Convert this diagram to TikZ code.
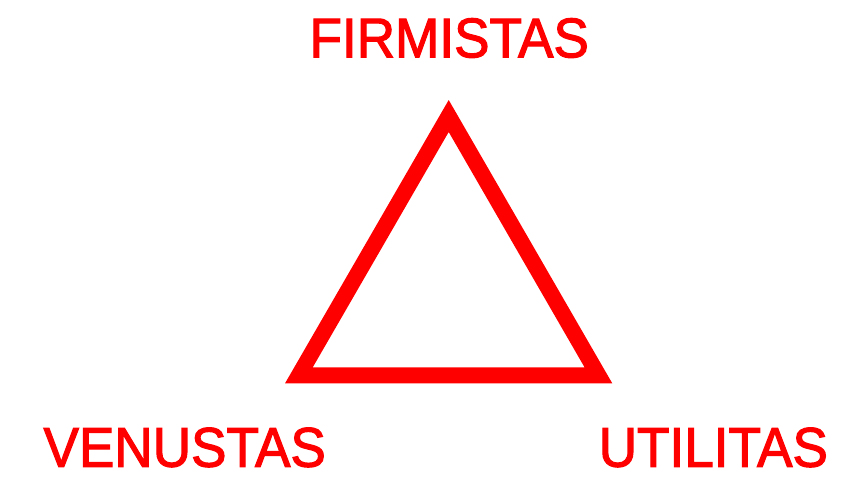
\documentclass[tikz,border=0pt]{standalone}
\usepackage{fontspec}
\setmainfont{Liberation Sans}[FakeStretch=0.95,FakeBold=2]
\usepackage{xcolor}
\definecolor{vitred}{RGB}{255,0,0}
\usepackage{tikz}

\begin{document}
\begin{tikzpicture}[
  x=1bp, y=-1bp,
  label/.style={
    inner sep=0pt, anchor=base,
    text=vitred, font=\fontsize{55.9bp}{60bp}\selectfont
  },
  side/.style={draw=vitred, line width=16bp, line join=miter}
]
\useasboundingbox (0,0) rectangle (851,482);

\coordinate (apex) at (448.7,116);
\coordinate (baseL) at (298.9,375.3);
\coordinate (baseR) at (598.4,375.3);

\node[label] (firm) at (449.2,57.3) {FIRMISTAS};
\node[label] (venus) at (184.7,466.7) {VENUSTAS};
\node[label] (util) at (713.3,466.7) {UTILITAS};

\draw[side] (apex) -- (baseL) -- (baseR) -- cycle;
\end{tikzpicture}
\end{document}
